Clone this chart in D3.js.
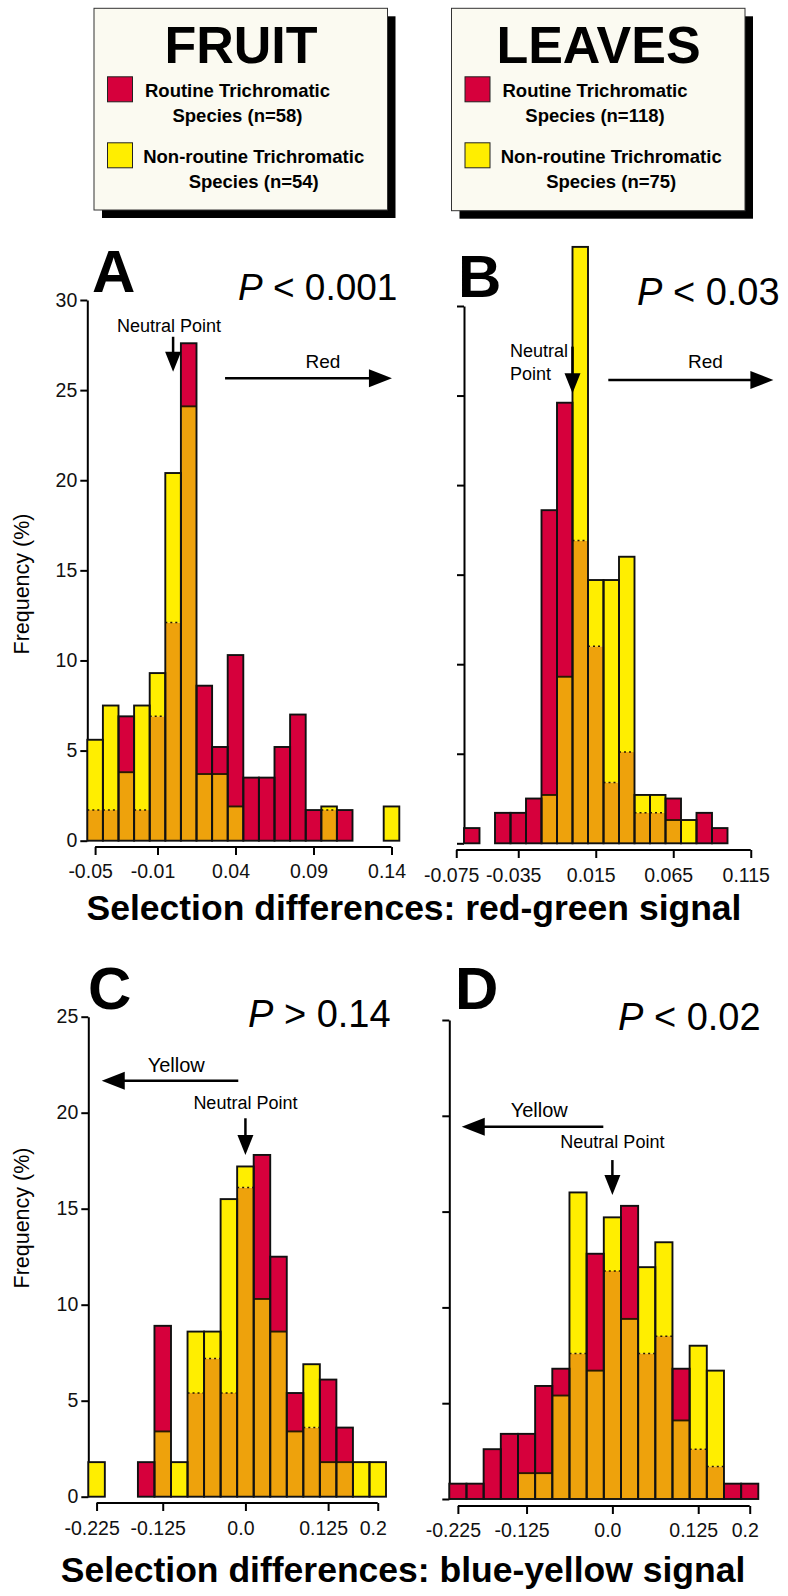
<!DOCTYPE html>
<html>
<head>
<meta charset="utf-8">
<script src="https://cdn.jsdelivr.net/npm/d3@7"></script>
<style>
body { margin: 0; background: #fff; }
svg { display: block; font-family: "Liberation Sans", Arial, Helvetica, sans-serif; }
</style>
</head>
<body>
<script>
// bin centres for each histogram
const binsA = [-0.05, -0.04, -0.03, -0.02, -0.01, 0.00, 0.01, 0.02, 0.03, 0.04, 0.05, 0.06, 0.07, 0.08, 0.09, 0.10, 0.11, 0.12, 0.13, 0.14];
const binsB = [-0.065, -0.055, -0.045, -0.035, -0.025, -0.015, -0.005, 0.005, 0.015, 0.025, 0.035, 0.045, 0.055, 0.065, 0.075, 0.085, 0.095];
const binsCD = [-0.225, -0.2, -0.175, -0.15, -0.125, -0.1, -0.075, -0.05, -0.025, 0.0, 0.025, 0.05, 0.075, 0.1, 0.125, 0.15, 0.175, 0.2];

// frequencies (%), routine vs non-routine trichromatic species
const routineA    = [1.7, 1.7, 6.9, 1.7, 6.9, 12.1, 27.6, 8.6, 5.2, 10.3, 3.5, 3.5, 5.2, 7.0, 1.7, 1.7, 1.7, 0, 0, 0];
const nonRoutineA = [5.6, 7.5, 3.8, 7.5, 9.3, 20.4, 24.1, 3.7, 3.7, 1.9, 0, 0, 0, 0, 0, 1.9, 0, 0, 0, 1.9];

const routineB    = [0.85, 0, 1.7, 1.7, 2.5, 18.6, 24.6, 16.9, 11.0, 3.4, 5.1, 1.7, 1.7, 2.5, 0, 1.7, 0.85];
const nonRoutineB = [0, 0, 0, 0, 0, 2.7, 9.3, 33.3, 14.7, 14.7, 16.0, 2.7, 2.7, 1.3, 1.3, 0, 0];

const routineC    = [0, 0, 0, 1.8, 8.9, 0, 5.4, 7.2, 5.4, 16.1, 17.8, 12.5, 5.4, 3.6, 6.1, 3.6, 0, 0];
const nonRoutineC = [1.8, 0, 0, 0, 3.4, 1.8, 8.6, 8.6, 15.5, 17.2, 10.3, 8.6, 3.4, 6.9, 1.8, 1.8, 1.8, 1.8];

const routineD    = [0.8, 0.8, 2.6, 3.4, 3.4, 5.9, 6.8, 7.6, 12.8, 11.9, 15.3, 7.6, 8.5, 6.8, 2.6, 1.7, 0.8, 0.8];
const nonRoutineD = [0, 0, 0, 0, 1.35, 1.35, 5.4, 16.0, 6.7, 14.7, 9.4, 12.1, 13.4, 4.1, 8.0, 6.7, 0, 0];

// ticks
const yTicksAB = [0, 5, 10, 15, 20, 25, 30];
const yTicksCD = [0, 5, 10, 15, 20, 25];
const xTicksA = [-0.05, -0.01, 0.04, 0.09, 0.14];
const xLabelsA = ["-0.05", "-0.01", "0.04", "0.09", "0.14"];
const xTicksB = [-0.075, -0.035, 0.015, 0.065, 0.115];
const xLabelsB = ["-0.075", "-0.035", "0.015", "0.065", "0.115"];
const xTicksCD = [-0.225, -0.125, 0.0, 0.125, 0.2];
const xLabelsCD = ["-0.225", "-0.125", "0.0", "0.125", "0.2"];

// legend sample sizes
const fruitN = [58, 54];
const leavesN = [118, 75];

const RED = "#d6003c";
const YELLOW = "#ffee00";
const ORANGE = "#eea20c";

const width = 788;
const height = 1596;

const svg = d3.select("body").append("svg")
    .attr("width", width)
    .attr("height", height);

drawLegend({ x: 94, y: 8.3, w: 293.5, h: 201.7 }, "FRUIT", fruitN);
drawLegend({ x: 451.5, y: 8.3, w: 293.5, h: 202.4 }, "LEAVES", leavesN);

const panels = [
    {
        letter: "A", letterPos: [92, 292], pText: "< 0.001", pPos: [238, 300], pSize: 37,
        bins: binsA, routine: routineA, other: nonRoutineA, binW: 0.01,
        xDom: [-0.055, 0.145], xRange: [87.3, 399.3],
        yDom: [0, 30], yRange: [840.7, 300], yTicks: yTicksAB, yLabels: true,
        xTicks: xTicksA, xLabels: xLabelsA, axisY: 847, labelY: 878,
        neutral: { text: ["Neutral Point"], tx: -0.0026, ty: [28.24], anchor: "middle", y1: 27.96, y2: 26.02 },
        side: { text: "Red", tx: 0.0961, ty: 26.21, ay: 25.66, from: 0.0333, to: 0.1403 }
    },
    {
        letter: "B", letterPos: [458, 297], pText: "< 0.03", pPos: [637, 305], pSize: 38,
        bins: binsB, routine: routineB, other: nonRoutineB, binW: 0.01,
        xDom: [-0.07, 0.10], xRange: [464, 727.5],
        yDom: [0, 30], yRange: [843.3, 306], yTicks: yTicksAB, yLabels: false,
        xTicks: xTicksB, xLabels: xLabelsB, axisY: 850, labelY: 881.5,
        neutral: { text: ["Neutral", "Point"], tx: -0.0403, ty: [27.17, 25.87], anchor: "start", y1: 27.73, y2: 25.13 },
        side: { text: "Red", tx: 0.0858, ty: 26.52, ay: 25.87, from: 0.0231, to: 0.1296 }
    },
    {
        letter: "C", letterPos: [88, 1009], pText: "> 0.14", pPos: [248, 1027], pSize: 38,
        bins: binsCD, routine: routineC, other: nonRoutineC, binW: 0.025,
        xDom: [-0.2375, 0.2125], xRange: [88.3, 386],
        yDom: [0, 25], yRange: [1496.7, 1016.7], yTicks: yTicksCD, yLabels: true,
        xTicks: xTicksCD, xLabels: xLabelsCD, axisY: 1503, labelY: 1535,
        neutral: { text: ["Neutral Point"], tx: 0, ty: [20.18], anchor: "middle", y1: 19.71, y2: 17.8 },
        side: { text: "Yellow", tx: -0.1046, ty: 22.14, ay: 21.67, from: -0.0108, to: -0.2172 }
    },
    {
        letter: "D", letterPos: [455, 1009], pText: "< 0.02", pPos: [618, 1030], pSize: 38,
        bins: binsCD, routine: routineD, other: nonRoutineD, binW: 0.025,
        xDom: [-0.2375, 0.2125], xRange: [449.3, 758.3],
        yDom: [0, 25], yRange: [1499, 1020], yTicks: yTicksCD, yLabels: false,
        xTicks: xTicksCD, xLabels: xLabelsCD, axisY: 1506, labelY: 1537,
        neutral: { text: ["Neutral Point"], tx: 0, ty: [18.3], anchor: "middle", y1: 17.69, y2: 15.87 },
        side: { text: "Yellow", tx: -0.1066, ty: 19.95, ay: 19.43, from: -0.0132, to: -0.2194 }
    }
];

panels.forEach(drawPanel);

// y axis titles
[584, 1218].forEach(cy => {
    svg.append("text")
        .attr("transform", `translate(29,${cy}) rotate(-90)`)
        .attr("text-anchor", "middle")
        .attr("font-size", 21.5)
        .text("Frequency (%)");
});

// x axis titles
svg.append("text")
    .attr("x", 414).attr("y", 920)
    .attr("text-anchor", "middle")
    .attr("font-size", 35.5).attr("font-weight", "bold")
    .text("Selection differences: red-green signal");

svg.append("text")
    .attr("x", 403).attr("y", 1582)
    .attr("text-anchor", "middle")
    .attr("font-size", 35.5).attr("font-weight", "bold")
    .text("Selection differences: blue-yellow signal");

function drawLegend(box, title, n) {
    const g = svg.append("g");
    g.append("rect")
        .attr("x", box.x + 8).attr("y", box.y + 8)
        .attr("width", box.w).attr("height", box.h)
        .attr("fill", "#000");
    g.append("rect")
        .attr("x", box.x).attr("y", box.y)
        .attr("width", box.w).attr("height", box.h)
        .attr("fill", "#fbfaf1")
        .attr("stroke", "#333")
        .attr("stroke-width", 1);

    g.append("text")
        .attr("x", box.x + 147).attr("y", box.y + 55)
        .attr("text-anchor", "middle")
        .attr("font-size", 52).attr("font-weight", "bold")
        .text(title);

    const items = [
        { color: RED, lines: ["Routine Trichromatic", `Species (n=${n[0]})`], sy: 68.5, cx: 143.5, ty: [88.4, 113.4] },
        { color: YELLOW, lines: ["Non-routine Trichromatic", `Species (n=${n[1]})`], sy: 134.5, cx: 159.7, ty: [154.7, 179.7] }
    ];
    items.forEach(it => {
        g.append("rect")
            .attr("x", box.x + 13.5).attr("y", box.y + it.sy)
            .attr("width", 25).attr("height", 25)
            .attr("fill", it.color)
            .attr("stroke", "#222").attr("stroke-width", 1);
        it.lines.forEach((t, i) => {
            g.append("text")
                .attr("x", box.x + it.cx).attr("y", box.y + it.ty[i])
                .attr("text-anchor", "middle")
                .attr("font-size", 18.5).attr("font-weight", "bold")
                .text(t);
        });
    });
}

function drawPanel(p) {
    const x = d3.scaleLinear().domain(p.xDom).range(p.xRange);
    const y = d3.scaleLinear().domain(p.yDom).range(p.yRange);
    const g = svg.append("g");

    // y axis
    const yAxis = d3.axisLeft(y)
        .tickValues(p.yTicks)
        .tickSize(7)
        .tickSizeOuter(0)
        .tickFormat(p.yLabels ? d3.format("d") : "");
    const ya = g.append("g")
        .attr("transform", `translate(${p.xRange[0]},0)`)
        .call(yAxis);
    ya.select(".domain").attr("stroke-width", 2);
    ya.selectAll(".tick line").attr("stroke-width", 2);
    ya.selectAll("text").attr("font-size", 19.5).attr("fill", "#111").attr("font-family", null);

    // x axis, line drawn from first to last tick
    const xAxis = d3.axisBottom(x)
        .tickValues(p.xTicks)
        .tickSize(8)
        .tickFormat((d, i) => p.xLabels[i]);
    const xa = g.append("g")
        .attr("transform", `translate(0,${p.axisY})`)
        .call(xAxis);
    xa.select(".domain").remove();
    xa.append("line")
        .attr("x1", x(p.xTicks[0]))
        .attr("x2", x(p.xTicks[p.xTicks.length - 1]))
        .attr("stroke", "#000")
        .attr("stroke-width", 2);
    xa.selectAll(".tick line").attr("stroke-width", 2);
    xa.selectAll("text")
        .attr("font-size", 19.5).attr("fill", "#111").attr("font-family", null)
        .attr("y", p.labelY - p.axisY)
        .attr("dy", 0)
        .attr("dx", -5);

    // bars: overlap of the two histograms shown in orange
    const rows = p.bins.map((b, i) => ({ b, r: p.routine[i], n: p.other[i] }));
    const x0 = d => x(d.b - p.binW / 2);
    const bw = d => x(d.b + p.binW / 2) - x(d.b - p.binW / 2);
    const lo = d => Math.min(d.r, d.n);
    const hi = d => Math.max(d.r, d.n);

    g.append("g").selectAll("rect")
        .data(rows.filter(d => lo(d) > 0))
        .join("rect")
        .attr("x", x0).attr("width", bw)
        .attr("y", d => y(lo(d)))
        .attr("height", d => y(0) - y(lo(d)))
        .attr("fill", ORANGE);

    g.append("g").selectAll("rect")
        .data(rows.filter(d => hi(d) > lo(d)))
        .join("rect")
        .attr("x", x0).attr("width", bw)
        .attr("y", d => y(hi(d)))
        .attr("height", d => y(lo(d)) - y(hi(d)))
        .attr("fill", d => d.r > d.n ? RED : YELLOW);

    g.append("g").selectAll("line")
        .data(rows.filter(d => lo(d) > 0 && hi(d) > lo(d)))
        .join("line")
        .attr("x1", x0).attr("x2", d => x0(d) + bw(d))
        .attr("y1", d => y(lo(d))).attr("y2", d => y(lo(d)))
        .attr("stroke", "#2a1a00")
        .attr("stroke-width", d => d.r > d.n ? 1.9 : 1.5)
        .attr("stroke-dasharray", d => d.r > d.n ? null : "2,3");

    g.append("g").selectAll("rect")
        .data(rows.filter(d => hi(d) > 0))
        .join("rect")
        .attr("x", x0).attr("width", bw)
        .attr("y", d => y(hi(d)))
        .attr("height", d => y(0) - y(hi(d)))
        .attr("fill", "none")
        .attr("stroke", "#111")
        .attr("stroke-width", 1.9);

    // panel letter and P value
    g.append("text")
        .attr("x", p.letterPos[0]).attr("y", p.letterPos[1])
        .attr("font-size", 60).attr("font-weight", "bold")
        .text(p.letter);
    const pt = g.append("text")
        .attr("x", p.pPos[0]).attr("y", p.pPos[1])
        .attr("font-size", p.pSize);
    pt.append("tspan").attr("font-style", "italic").text("P");
    pt.append("tspan").text(" " + p.pText);

    // neutral point annotation
    const nt = p.neutral;
    nt.text.forEach((t, i) => {
        g.append("text")
            .attr("x", x(nt.tx)).attr("y", y(nt.ty[i]))
            .attr("text-anchor", nt.anchor)
            .attr("font-size", 18)
            .text(t);
    });
    arrow(g, x(0), y(nt.y1), x(0), y(nt.y2), 20, 8);

    // direction annotation
    const sd = p.side;
    g.append("text")
        .attr("x", x(sd.tx)).attr("y", y(sd.ty))
        .attr("text-anchor", "middle")
        .attr("font-size", sd.text === "Red" ? 19 : 20)
        .text(sd.text);
    arrow(g, x(sd.from), y(sd.ay), x(sd.to), y(sd.ay), 23, 9);
}

function arrow(g, x1, y1, x2, y2, headLen, headHalf) {
    const len = Math.hypot(x2 - x1, y2 - y1);
    const ux = (x2 - x1) / len;
    const uy = (y2 - y1) / len;
    const bx = x2 - ux * headLen;
    const by = y2 - uy * headLen;
    g.append("line")
        .attr("x1", x1).attr("y1", y1)
        .attr("x2", bx + ux * 2).attr("y2", by + uy * 2)
        .attr("stroke", "#000")
        .attr("stroke-width", 2.5);
    g.append("path")
        .attr("d", `M${x2},${y2} L${bx - uy * headHalf},${by + ux * headHalf} L${bx + uy * headHalf},${by - ux * headHalf} Z`)
        .attr("fill", "#000");
}
</script>
</body>
</html>
